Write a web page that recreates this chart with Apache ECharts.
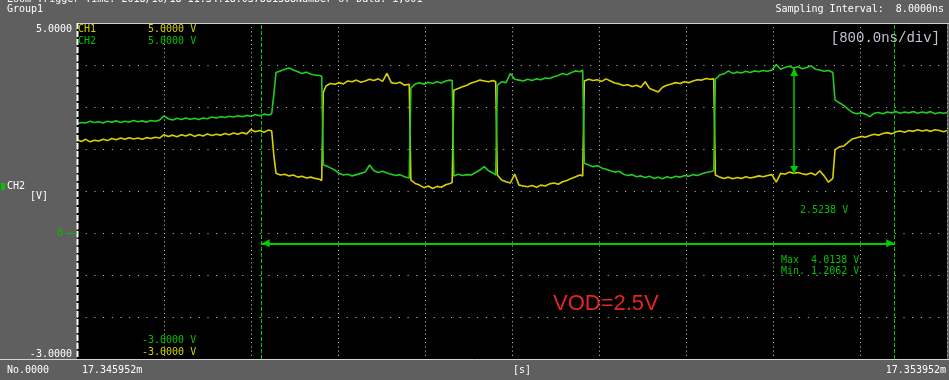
<!DOCTYPE html>
<html><head><meta charset="utf-8">
<script src="https://cdn.jsdelivr.net/npm/echarts@6/dist/echarts.min.js"></script>
<style>html,body{margin:0;padding:0;background:#5f5f5f;overflow:hidden}#c{width:949px;height:380px}</style>
</head><body><div id="c"></div>
<script>
// ---- data (time offset in ns from 17.345952 ms, voltages in V) ----
const timeNs = [
 0,40,80,120,160,200,240,280,320,360,400,440,480,520,560,600,640,680,720,760,800,840,880,920,960,1000,1040,1080,1120,1160,1200,1240,1280,1320,1360,1400,1440,1480,1520,1560,1600,1640,1680,1720,1760,1790,
 1810,
 1830,1870,1910,1950,1990,2030,2070,2110,2150,2190,2230,2250,
 2265,
 2290,2330,2370,2410,2450,2490,2530,2570,2610,2650,2690,2730,2770,2810,2850,2890,2930,2970,3010,3055,
 3070,3110,3150,3190,3230,3270,3310,3350,3390,3430,3450,
 3465,3505,3545,3585,3625,3665,3705,3745,3785,3825,3850,
 3865,3905,3945,3985,4025,4065,4105,4145,4185,4225,4265,4305,4345,4385,4425,4465,4505,4545,4585,4625,4650,
 4665,4705,4745,4785,4825,4865,4905,4945,4985,5025,5065,5105,5145,5185,5225,5265,5305,5345,5385,5425,5465,5505,5545,5585,5625,5665,5705,5745,5785,5825,5855,
 5870,5910,5950,5990,6030,6070,6110,6150,6190,6230,6270,6310,6350,6390,6430,6470,6510,6550,6590,6630,6670,6710,6750,6790,6830,6870,6910,6950,
 6970,7010,7050,7090,7130,7170,7210,7250,7290,7330,7370,7410,7450,7490,7530,7570,7610,7650,7690,7730,7770,7810,7850,7890,7930,7970,8000
];
const ch1Volts = [
 2.22,2.18,2.23,2.17,2.21,2.19,2.23,2.20,2.25,2.22,2.26,2.23,2.27,2.24,2.26,2.23,2.27,2.25,2.28,2.26,2.34,2.30,2.33,2.29,2.34,2.31,2.35,2.30,2.34,2.31,2.36,2.32,2.35,2.33,2.37,2.34,2.38,2.35,2.39,2.36,2.46,2.41,2.44,2.40,2.45,2.43,
 1.85,
 1.42,1.38,1.40,1.36,1.38,1.33,1.35,1.31,1.33,1.30,1.28,1.25,
 3.35,
 3.50,3.56,3.54,3.58,3.55,3.62,3.60,3.64,3.59,3.62,3.66,3.63,3.67,3.61,3.80,3.58,3.56,3.59,3.52,3.54,
 1.26,1.18,1.14,1.08,1.12,1.06,1.11,1.09,1.15,1.18,1.20,
 3.40,3.44,3.48,3.52,3.57,3.60,3.64,3.62,3.60,3.63,3.60,
 1.38,1.26,1.22,1.19,1.40,1.14,1.12,1.10,1.13,1.09,1.14,1.12,1.17,1.19,1.16,1.22,1.25,1.30,1.34,1.38,1.36,
 3.62,3.66,3.63,3.65,3.61,3.67,3.62,3.57,3.55,3.51,3.53,3.49,3.52,3.47,3.60,3.44,3.40,3.36,3.47,3.52,3.55,3.58,3.56,3.60,3.58,3.62,3.65,3.64,3.68,3.66,3.67,
 1.38,1.33,1.30,1.33,1.29,1.32,1.30,1.34,1.31,1.33,1.36,1.34,1.37,1.39,1.21,1.42,1.40,1.45,1.42,1.44,1.41,1.39,1.43,1.38,1.48,1.36,1.21,1.30,
 1.98,2.05,2.07,2.16,2.24,2.27,2.30,2.28,2.32,2.35,2.33,2.37,2.39,2.36,2.41,2.43,2.40,2.44,2.42,2.46,2.43,2.45,2.42,2.46,2.44,2.41,2.44
];
const ch2Volts = [
 2.60,2.63,2.62,2.66,2.63,2.65,2.62,2.66,2.64,2.67,2.63,2.66,2.64,2.68,2.65,2.67,2.64,2.68,2.66,2.69,2.79,2.72,2.69,2.73,2.70,2.74,2.71,2.73,2.70,2.74,2.72,2.76,2.74,2.77,2.75,2.78,2.76,2.79,2.77,2.80,2.78,2.82,2.79,2.83,2.81,2.84,
 3.30,
 3.82,3.86,3.90,3.93,3.88,3.84,3.80,3.83,3.78,3.76,3.75,3.73,
 1.62,
 1.60,1.55,1.50,1.42,1.38,1.40,1.36,1.39,1.42,1.45,1.62,1.48,1.44,1.47,1.43,1.40,1.37,1.39,1.34,1.31,
 3.45,3.55,3.58,3.54,3.59,3.56,3.60,3.57,3.62,3.64,3.63,
 1.36,1.40,1.37,1.39,1.38,1.44,1.50,1.58,1.48,1.43,1.38,
 3.52,3.60,3.58,3.80,3.66,3.64,3.62,3.66,3.63,3.67,3.65,3.69,3.68,3.72,3.75,3.80,3.77,3.82,3.86,3.84,3.88,
 1.66,1.62,1.58,1.60,1.55,1.52,1.48,1.45,1.47,1.40,1.37,1.39,1.34,1.36,1.32,1.35,1.30,1.33,1.29,1.34,1.31,1.35,1.33,1.37,1.35,1.39,1.37,1.41,1.44,1.46,1.48,
 3.66,3.76,3.79,3.86,3.80,3.83,3.81,3.85,3.82,3.86,3.84,3.87,3.85,3.88,4.01,3.90,3.94,3.97,3.93,3.96,3.91,3.94,3.98,3.90,3.88,3.85,3.87,3.82,
 3.17,3.10,3.04,2.95,2.87,2.84,2.86,2.83,2.77,2.85,2.87,2.84,2.88,2.86,2.89,2.85,2.88,2.86,2.89,2.85,2.88,2.86,2.89,2.84,2.87,2.85,2.87
];
const yTickValues = [5, 0, -3];
const yTickLabels = ['5.0000', '0', '-3.0000'];
const xEndLabels = ['17.345952m', '17.353952m'];
const cursorTimesNs = [1698, 7515];
const spanArrowVolt = [-0.245];
const vodArrowTimeNs = [6595];
const vodArrowVolts = [3.93, 1.405];
const measureTexts = ['2.5238 V', 'Max  4.0138 V', 'Min. 1.2062 V'];

// ---- chart ----
const FONT = '"DejaVu Sans Mono", monospace';
const F10 = '10px ' + FONT;
const GREEN_T = '#00c000', YEL_T = '#d2d200', CUR = '#00cc00';
const chart = echarts.init(document.getElementById('c'), null, {renderer: 'canvas'});

function txt(text, x, y, fill, opts) {
  opts = opts || {};
  return {type: 'text', z: 200, silent: true, style: Object.assign({
    text: text, x: x, y: y, fill: fill, font: F10, align: 'left', verticalAlign: 'middle'
  }, opts)};
}

const option = {
  backgroundColor: '#5f5f5f',
  animation: false,
  grid: {left: 77, top: 23, width: 870, height: 336, show: true, backgroundColor: '#000', borderWidth: 0},
  xAxis: {
    type: 'value', min: 0, max: 8000, interval: 800,
    axisLine: {show: false}, axisTick: {show: false},
    splitLine: {show: true, lineStyle: {color: '#cfcfcf', width: 1, type: [1, 3.2]}},
    axisLabel: {
      show: true, showMinLabel: true, showMaxLabel: true, margin: 6,
      alignMinLabel: 'left', alignMaxLabel: 'right',
      color: '#ffffff', fontFamily: FONT, fontSize: 10,
      formatter: function (v) {
        if (v === 0) return '{l|' + xEndLabels[0] + '}';
        if (v === 8000) return '{r|' + xEndLabels[1] + '}';
        return '';
      },
      rich: {
        l: {color: '#fff', fontFamily: FONT, fontSize: 10, padding: [0, 0, 0, 5]},
        r: {color: '#fff', fontFamily: FONT, fontSize: 10, padding: [0, 1, 0, 0]}
      }
    }
  },
  yAxis: {
    type: 'value', min: -3, max: 5, interval: 1,
    axisLine: {show: false}, axisTick: {show: false},
    splitLine: {show: true, lineStyle: {color: '#cfcfcf', width: 1, type: [1, 7.7]}},
    axisLabel: {
      show: true, margin: 5, color: '#fff', fontFamily: FONT, fontSize: 10,
      formatter: function (v) {
        const i = yTickValues.indexOf(v);
        if (i < 0) return '';
        const key = i === 0 ? 't' : (i === 1 ? 'z' : 'b');
        return '{' + key + '|' + yTickLabels[i] + '}';
      },
      rich: {
        t: {color: '#fff', fontFamily: FONT, fontSize: 10, padding: [13, 0, 0, 0]},
        z: {color: GREEN_T, fontFamily: FONT, fontSize: 10, padding: [0, 9, 0, 0]},
        b: {color: '#fff', fontFamily: FONT, fontSize: 10, padding: [0, 0, 10, 0]}
      }
    }
  },
  series: [
    {
      name: 'CH1', type: 'line', showSymbol: false, silent: true, z: 3,
      data: timeNs.map((t, i) => [t, ch1Volts[i]]),
      lineStyle: {color: '#d8d000', width: 1.6}
    },
    {
      name: 'CH2', type: 'line', showSymbol: false, silent: true, z: 4,
      data: timeNs.map((t, i) => [t, ch2Volts[i]]),
      lineStyle: {color: '#22cc22', width: 1.6},
      markLine: {
        silent: true, animation: false, symbol: ['none', 'none'],
        label: {show: false},
        lineStyle: {color: CUR, width: 1, type: [4, 2]},
        data: [
          {xAxis: cursorTimesNs[0]},
          {xAxis: cursorTimesNs[1]},
          [
            {coord: [cursorTimesNs[0], spanArrowVolt[0]], symbol: 'triangle', symbolSize: 8, symbolOffset: [0, 4],
             lineStyle: {color: CUR, width: 2, type: 'solid'}},
            {coord: [cursorTimesNs[1], spanArrowVolt[0]], symbol: 'triangle', symbolSize: 8, symbolOffset: [0, 4]}
          ],
          [
            {coord: [vodArrowTimeNs[0], vodArrowVolts[0]], symbol: 'triangle', symbolSize: 8, symbolOffset: [0, 4],
             lineStyle: {color: CUR, width: 1.5, type: 'solid'}},
            {coord: [vodArrowTimeNs[0], vodArrowVolts[1]], symbol: 'triangle', symbolSize: 8, symbolOffset: [0, 4]}
          ]
        ]
      }
    }
  ],
  graphic: [
    // frame lines
    {type: 'line', z: 150, silent: true, shape: {x1: 77, y1: 23.5, x2: 949, y2: 23.5}, style: {stroke: '#cfcfcf', lineWidth: 1}},
    {type: 'line', z: 150, silent: true, shape: {x1: 0, y1: 359.5, x2: 949, y2: 359.5}, style: {stroke: '#d6d6d6', lineWidth: 1}},
    {type: 'line', z: 150, silent: true, shape: {x1: 77.5, y1: 23, x2: 77.5, y2: 359}, style: {stroke: '#ffffff', lineWidth: 2, lineDash: [6, 2]}},
    {type: 'line', z: 150, silent: true, shape: {x1: 66, y1: 233.5, x2: 77, y2: 233.5}, style: {stroke: GREEN_T, lineWidth: 1}},
    {type: 'rect', z: 150, silent: true, shape: {x: 1, y: 183, width: 4, height: 7}, style: {fill: GREEN_T}},
    // header
    txt('Zoom Trigger Time: 2018/10/18 11:34:18.037881388Number of Data: 1,001', 7, -1, '#ffffff'),
    txt('Group1', 7, 9.5, '#ffffff'),
    txt('Sampling Interval:  8.0000ns', 944, 9.5, '#ffffff', {align: 'right'}),
    // left axis title
    txt('CH2', 7, 186.5, '#ffffff'),
    txt('[V]', 30, 196.5, '#ffffff'),
    // channel scale legend
    txt('CH1', 78, 29.5, YEL_T),
    txt('5.0000 V', 148, 29.5, YEL_T),
    txt('CH2', 78, 41.5, GREEN_T),
    txt('5.0000 V', 148, 41.5, GREEN_T),
    txt('-3.0000 V', 142, 340.5, GREEN_T),
    txt('-3.0000 V', 142, 352.5, YEL_T),
    // time/div
    txt('[800.0ns/div]', 940, 38.5, '#c4c4d2', {font: '14px "Liberation Mono", monospace', align: 'right'}),
    // measurements
    txt(measureTexts[0], 800, 210.5, GREEN_T),
    txt(measureTexts[1], 781, 260, GREEN_T),
    txt(measureTexts[2], 781, 271.5, GREEN_T),
    txt('VOD=2.5V', 553, 303.5, '#e62424', {font: '22px "Liberation Sans", Arial, sans-serif'}),
    // bottom strip
    txt('No.0000', 7, 370, '#ffffff'),
    txt('[s]', 513, 370, '#ffffff')
  ]
};
chart.setOption(option);
</script>
</body></html>
